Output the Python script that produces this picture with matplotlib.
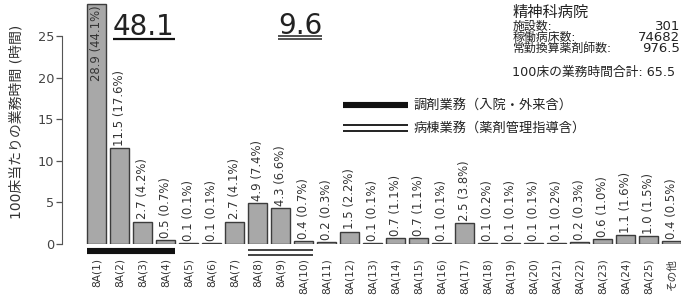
import matplotlib
matplotlib.use("Agg")
import matplotlib.pyplot as plt
import numpy as np

plt.rcParams['font.family'] = ['DejaVu Sans', 'Noto Sans CJK JP']

categories = ["8A(1)", "8A(2)", "8A(3)", "8A(4)", "8A(5)", "8A(6)", "8A(7)", "8A(8)", "8A(9)",
              "8A(10)", "8A(11)", "8A(12)", "8A(13)", "8A(14)", "8A(15)", "8A(16)", "8A(17)",
              "8A(18)", "8A(19)", "8A(20)", "8A(21)", "8A(22)", "8A(23)", "8A(24)", "8A(25)", "その他"]
hours = [28.9, 11.5, 2.7, 0.5, 0.1, 0.1, 2.7, 4.9, 4.3, 0.4, 0.2, 1.5, 0.1, 0.7, 0.7, 0.1, 2.5,
         0.1, 0.1, 0.1, 0.1, 0.2, 0.6, 1.1, 1.0, 0.4]
percents = [44.1, 17.6, 4.2, 0.7, 0.1, 0.1, 4.1, 7.4, 6.6, 0.7, 0.3, 2.2, 0.1, 1.1, 1.1, 0.1, 3.8,
            0.2, 0.1, 0.1, 0.2, 0.3, 1.0, 1.6, 1.5, 0.5]
yticks = [0, 5, 10, 15, 20, 25]
dispensing_total = "48.1"
ward_total = "9.6"
legend_labels = ["調剤業務（入院・外来含）", "病棟業務（薬剤管理指導含）"]
info_title = "精神科病院"
info_labels = ["施設数:", "稼働病床数:", "常勤換算薬剤師数:"]
info_values = ["301", "74682", "976.5"]
info_total = "100床の業務時間合計: 65.5"
ylabel = "100床当たりの業務時間 (時間)"

W, H = 681, 300
fig = plt.figure(figsize=(W / 100, H / 100), dpi=100)
ax = fig.add_axes([62 / W, 56 / H, 619 / W, 244 / H])
x = np.arange(len(categories))
bw = 0.85
ax.bar(x, hours, width=bw, color="#a8a8a8", edgecolor="#3c3c3c", linewidth=1.0)
ax.set_xlim(-1.5, -1.5 + 619 / 23)
ax.set_ylim(0, 244 / 8.32)

for i, (h, p) in enumerate(zip(hours, percents)):
    s = f"{h:.1f} ({p:.1f}%)"
    if h > 20:
        ax.text(i, h - 0.25, s, rotation=90, ha="center", va="top", fontsize=8.4, color="#333333")
    else:
        ax.text(i, h + 0.25, s, rotation=90, ha="center", va="bottom", fontsize=8.4, color="#333333")

for sp in ["top", "right", "bottom"]:
    ax.spines[sp].set_visible(False)
ax.spines["left"].set_bounds(0, 25)
ax.spines["left"].set_color("#555555")
ax.set_yticks(yticks)
ax.tick_params(axis="y", length=4, width=0.9, color="#555555", labelsize=9.3, pad=1.5, labelcolor="#444444")
ax.set_xticks(x, categories, rotation=90)
ax.tick_params(axis="x", length=0, pad=10, labelsize=7.7, labelcolor="#333333")
ax.set_ylabel(ylabel, fontsize=10, color="#333333", labelpad=10)

# group markers under the bars
y_px = 8.32
ax.plot([0 - bw / 2, 3 + bw / 2], [-7 / y_px, -7 / y_px], color="#111111", lw=4.4,
        solid_capstyle="butt", clip_on=False)
for dy in (-6 / y_px, -11 / y_px):
    ax.plot([7 - bw / 2, 9 + bw / 2], [dy, dy], color="#222222", lw=1.2,
            solid_capstyle="butt", clip_on=False)

# overlay in pixel coordinates for annotations
ov = fig.add_axes([0, 0, 1, 1], zorder=5)
ov.set_xlim(0, W)
ov.set_ylim(H, 0)
ov.axis("off")
ov.patch.set_alpha(0)

ov.text(144, 35, dispensing_total, fontsize=20, ha="center", va="baseline", color="#222222")
ov.plot([113, 175], [38.5, 38.5], color="#111111", lw=1.6, solid_capstyle="butt")
ov.text(300, 34, ward_total, fontsize=20, ha="center", va="baseline", color="#222222")
ov.plot([278, 322], [36, 36], color="#222222", lw=1.1, solid_capstyle="butt")
ov.plot([278, 322], [39, 39], color="#222222", lw=1.1, solid_capstyle="butt")

ov.plot([343, 408], [105, 105], color="#111111", lw=4.4, solid_capstyle="butt")
ov.plot([343, 408], [125, 125], color="#222222", lw=1.4, solid_capstyle="butt")
ov.plot([343, 408], [130.5, 130.5], color="#222222", lw=1.4, solid_capstyle="butt")
ov.text(414, 105, legend_labels[0], fontsize=9.5, ha="left", va="center", color="#222222")
ov.text(414, 128, legend_labels[1], fontsize=9.5, ha="left", va="center", color="#222222")

ov.text(513, 12, info_title, fontsize=11, ha="left", va="center", color="#222222")
ov.text(513, 19.5, "\n".join(info_labels), fontsize=8.6, ha="left", va="top",
        linespacing=0.82, color="#222222")
ov.text(680, 19.5, "\n".join(info_values), fontsize=9.5, ha="right", va="top",
        linespacing=0.82, multialignment="right", color="#222222")
ov.text(512, 72, info_total, fontsize=9.2, ha="left", va="center", color="#222222")

fig.savefig("out.png", dpi=100)
